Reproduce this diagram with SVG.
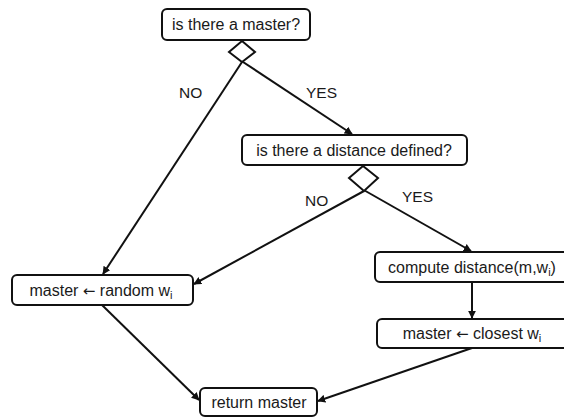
<svg xmlns="http://www.w3.org/2000/svg" width="564" height="418" viewBox="0 0 564 418">
<style>
.box{fill:#fff;stroke:#111;stroke-width:2}
.t{font-family:"Liberation Sans",Arial,sans-serif;font-size:16px;fill:#1a1a1a;text-anchor:middle}
.lbl{font-family:"Liberation Sans",Arial,sans-serif;font-size:15.5px;fill:#1a1a1a}
.sub{font-size:11px}
.arr{font-family:"DejaVu Sans",sans-serif;font-size:15px}
.c{fill:none;stroke:#111;stroke-width:2;marker-end:url(#ah)}
.d{fill:#fff;stroke:#111;stroke-width:2}
</style>
<defs>
<marker id="ah" viewBox="0 0 10 10" refX="9" refY="5" markerWidth="4" markerHeight="4" orient="auto" markerUnits="strokeWidth">
<path d="M0,0 L10,5 L0,10 z" fill="#111"/>
</marker>
</defs>
<rect width="564" height="418" fill="#fff"/>
<g id="connectors">
<line class="c" x1="242" y1="62" x2="103" y2="274"/>
<line class="c" x1="240" y1="60" x2="352" y2="134"/>
<line class="c" x1="364" y1="191" x2="194" y2="284"/>
<line class="c" x1="362" y1="189" x2="471" y2="251"/>
<line class="c" x1="472" y1="282" x2="472" y2="318"/>
<line class="c" x1="102" y1="305" x2="199" y2="400"/>
<line class="c" x1="472" y1="348" x2="318" y2="401"/>
<text class="lbl" x="179" y="98">NO</text>
<text class="lbl" x="306" y="98">YES</text>
<text class="lbl" x="305" y="206">NO</text>
<text class="lbl" x="402" y="202">YES</text>
</g>
<g id="d1"><polygon class="d" points="242,41 255,52 242,62 229,52"/></g>
<g id="d2"><polygon class="d" points="363,166 378,178 364,191 349,178"/></g>
<g id="n1">
<rect class="box" x="162" y="9" width="148" height="31" rx="5"/>
<text class="t" x="236" y="30">is there a master?</text>
</g>
<g id="n2">
<rect class="box" x="242" y="135" width="225" height="30" rx="5"/>
<text class="t" x="354" y="156">is there a distance defined?</text>
</g>
<g id="n3">
<rect class="box" x="12" y="275" width="181" height="30" rx="5"/>
<text class="t" x="101" y="296">master <tspan class="arr">←</tspan> random w<tspan class="sub" dy="3">i</tspan></text>
</g>
<g id="n4">
<rect class="box" x="375" y="252" width="200" height="30" rx="5"/>
<text class="t" x="472" y="273">compute distance(m,w<tspan class="sub" dy="3">i</tspan><tspan dy="-3">)</tspan></text>
</g>
<g id="n5">
<rect class="box" x="377" y="319" width="198" height="29" rx="5"/>
<text class="t" x="472" y="339">master <tspan class="arr">←</tspan> closest w<tspan class="sub" dy="3">i</tspan></text>
</g>
<g id="n6">
<rect class="box" x="200" y="388" width="117" height="28" rx="5"/>
<text class="t" x="259" y="408">return master</text>
</g>
</svg>
